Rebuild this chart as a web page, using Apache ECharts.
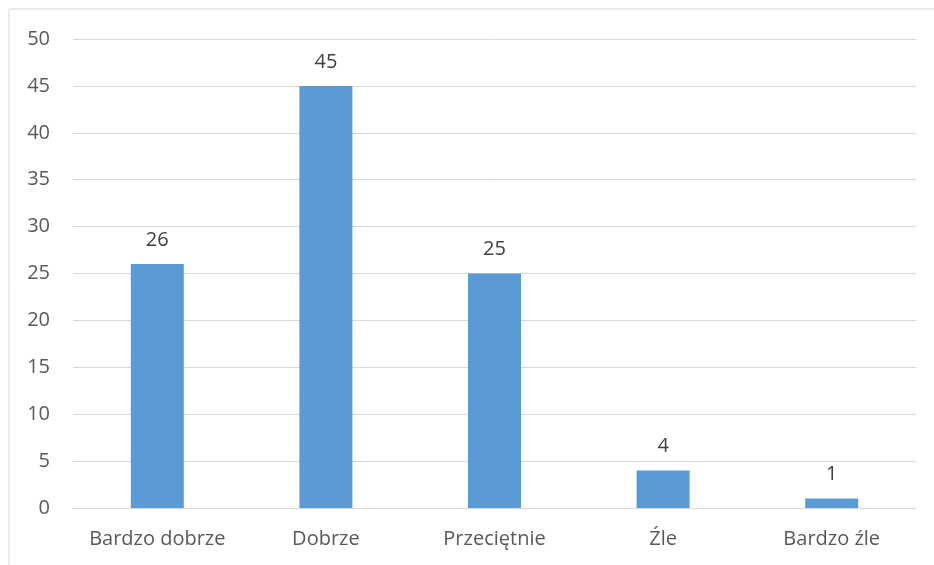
<!DOCTYPE html>
<html>
<head>
<meta charset="utf-8">
<script src="https://cdn.jsdelivr.net/npm/echarts@6/dist/echarts.min.js"></script>
<style>
  html, body { margin: 0; padding: 0; background: #ffffff; }
  #chart { width: 934px; height: 565px; }
</style>
</head>
<body>
<div id="chart"></div>
<script>
// Survey ratings and their counts
const categories = ['Bardzo dobrze', 'Dobrze', 'Przeciętnie', 'Źle', 'Bardzo źle'];
const values = [26, 45, 25, 4, 1];
const yTicks = { min: 0, max: 50, interval: 5 };

const textColor = '#595959';
const fontFamily = '"Open Sans", "Noto Sans", sans-serif';

const chart = echarts.init(document.getElementById('chart'), null, { renderer: 'canvas' });
chart.setOption({
  backgroundColor: '#ffffff',
  animation: false,
  graphic: [{
    type: 'rect',
    shape: { x: 9, y: 9, width: 1000, height: 1000 },
    style: { fill: 'none', stroke: '#d9d9d9', lineWidth: 1 }
  }],
  grid: { left: 73, right: 18, top: 39, bottom: 57, containLabel: false },
  xAxis: {
    type: 'category',
    data: categories,
    axisLine: { show: true, lineStyle: { color: '#d9d9d9', width: 1 } },
    axisTick: { show: false },
    axisLabel: {
      interval: 0,
      hideOverlap: false,
      color: textColor,
      fontFamily: fontFamily,
      fontSize: 20,
      margin: 21
    }
  },
  yAxis: {
    type: 'value',
    min: yTicks.min,
    max: yTicks.max,
    interval: yTicks.interval,
    axisLine: { show: false },
    axisTick: { show: false },
    splitLine: { lineStyle: { color: '#d9d9d9', width: 1 } },
    axisLabel: { color: textColor, fontFamily: fontFamily, fontSize: 20, margin: 23 }
  },
  series: [{
    type: 'bar',
    data: values,
    barWidth: 53,
    itemStyle: { color: '#5b9bd5' },
    label: {
      show: true,
      position: 'top',
      distance: 14,
      color: '#404040',
      fontFamily: fontFamily,
      fontSize: 20
    }
  }]
});
</script>
</body>
</html>
